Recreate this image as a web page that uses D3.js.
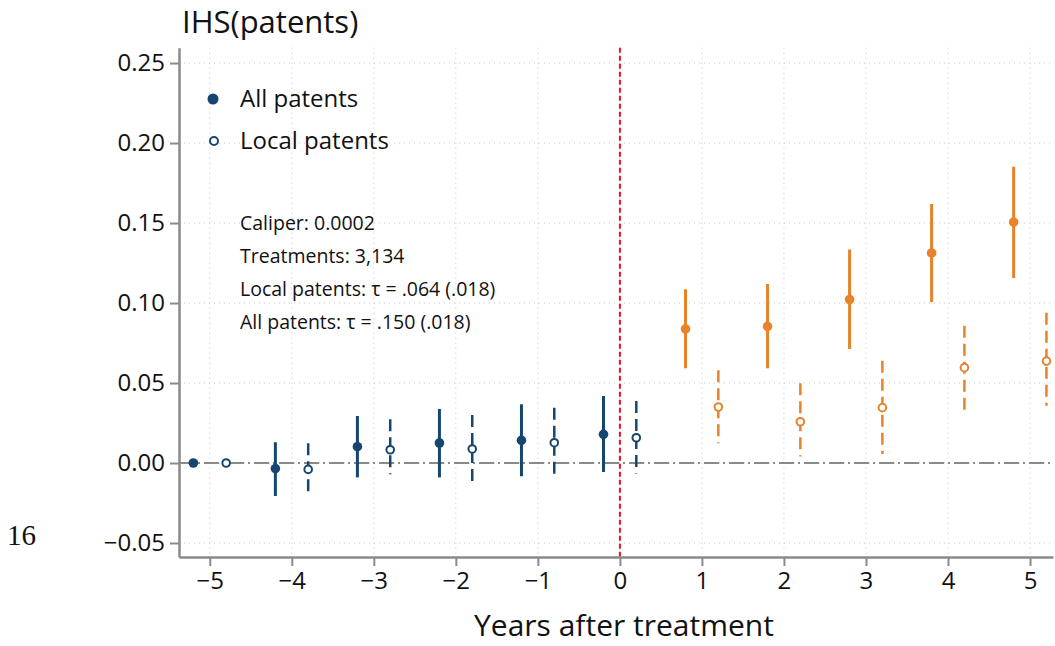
<!DOCTYPE html>
<html>
<head>
<meta charset="utf-8">
<title>Event study</title>
<script src="https://d3js.org/d3.v7.min.js"></script>
<style>
  body { margin: 0; background: #fff; }
  svg text { fill: #111; }
</style>
</head>
<body>
<div id="chart"></div>
<script>
// years relative to treatment
const years = [-5, -4, -3, -2, -1, 0, 1, 2, 3, 4, 5];

// all patents: point estimate and 95% CI
const allEst = [0, -0.0035, 0.0102, 0.0125, 0.0142, 0.0179, 0.0838, 0.0854, 0.1022, 0.1313, 0.1506];
const allLo  = [0, -0.0206, -0.0090, -0.0090, -0.0083, -0.0056, 0.0592, 0.0592, 0.0713, 0.1006, 0.1156];
const allHi  = [0, 0.0130, 0.0294, 0.0338, 0.0367, 0.0419, 0.1086, 0.1119, 0.1335, 0.1619, 0.1852];

// local patents
const locEst = [0, -0.0040, 0.0083, 0.0088, 0.0127, 0.0158, 0.0350, 0.0258, 0.0346, 0.0596, 0.0637];
const locLo  = [0, -0.0202, -0.0070, -0.0120, -0.0092, -0.0065, 0.0123, 0.0040, 0.0056, 0.0331, 0.0358];
const locHi  = [0, 0.0123, 0.0273, 0.0300, 0.0346, 0.0388, 0.0580, 0.0498, 0.0639, 0.0858, 0.0940];

const xTicks = [-5, -4, -3, -2, -1, 0, 1, 2, 3, 4, 5];
const yTicks = [-0.05, 0, 0.05, 0.10, 0.15, 0.20, 0.25];

const notes = ["Caliper: 0.0002", "Treatments: 3,134",
               "Local patents: \u03c4 = .064 (.018)", "All patents: \u03c4 = .150 (.018)"];

const navy = "#16466f", orange = "#e8832a", gray = "#8a8a8a";
const sans = "Open Sans, sans-serif";

const W = 1055, H = 646;
const svg = d3.select("#chart").append("svg")
    .attr("width", W).attr("height", H)
    .style("font-family", sans);

const x = d3.scaleLinear().domain([-5.375, 5.28]).range([179, 1053]);
const y = d3.scaleLinear().domain([-0.05875, 0.2596]).range([557, 47.7]);

// grid
svg.append("g").selectAll("line").data(xTicks).join("line")
    .attr("x1", d => x(d)).attr("x2", d => x(d))
    .attr("y1", y.range()[1]).attr("y2", y.range()[0])
    .attr("stroke", "#c8c8c8").attr("stroke-width", 1).attr("stroke-dasharray", "1,4");
svg.append("g").selectAll("line").data(yTicks).join("line")
    .attr("x1", x.range()[0]).attr("x2", x.range()[1])
    .attr("y1", d => y(d)).attr("y2", d => y(d))
    .attr("stroke", "#c8c8c8").attr("stroke-width", 1).attr("stroke-dasharray", "1,4");

// zero line
svg.append("line")
    .attr("x1", x.range()[0]).attr("x2", x.range()[1])
    .attr("y1", y(0)).attr("y2", y(0))
    .attr("stroke", gray).attr("stroke-width", 2).attr("stroke-dasharray", "15,4,2,4");

// treatment line
svg.append("line")
    .attr("x1", x(0)).attr("x2", x(0))
    .attr("y1", y.range()[1]).attr("y2", y.range()[0])
    .attr("stroke", "#e8141c").attr("stroke-width", 2).attr("stroke-dasharray", "5,3");

// axes
const fmtY = d => d3.format(".2f")(d).replace("-", "\u2212");
const fmtX = d => String(d).replace("-", "\u2212");

const gx = svg.append("g").attr("transform", "translate(0,557)")
    .call(d3.axisBottom(x).tickValues(xTicks).tickFormat(fmtX).tickSize(9).tickPadding(6).tickSizeOuter(0));
const gy = svg.append("g").attr("transform", "translate(179,0)")
    .call(d3.axisLeft(y).tickValues(yTicks).tickFormat(fmtY).tickSize(9).tickPadding(5).tickSizeOuter(0));
[gx, gy].forEach(g => {
    g.select(".domain").attr("stroke", gray).attr("stroke-width", 2.5);
    g.selectAll(".tick line").attr("stroke", gray).attr("stroke-width", 2);
    g.selectAll(".tick text").attr("font-size", 24).attr("font-family", sans).attr("fill", "#111");
});

const colorOf = t => t > 0 ? orange : navy;

const allData = years.map((t, i) => ({t, est: allEst[i], lo: allLo[i], hi: allHi[i]}));
const locData = years.map((t, i) => ({t, est: locEst[i], lo: locLo[i], hi: locHi[i]}));

// all patents, shifted left, solid CI
svg.append("g").selectAll("line").data(allData.filter(d => d.t !== -5)).join("line")
    .attr("x1", d => x(d.t - 0.2)).attr("x2", d => x(d.t - 0.2))
    .attr("y1", d => y(d.lo)).attr("y2", d => y(d.hi))
    .attr("stroke", d => colorOf(d.t)).attr("stroke-width", 3);
svg.append("g").selectAll("circle").data(allData).join("circle")
    .attr("cx", d => x(d.t - 0.2)).attr("cy", d => y(d.est)).attr("r", 4.8)
    .attr("fill", d => colorOf(d.t));

// local patents, shifted right, dashed CI
svg.append("g").selectAll("line").data(locData.filter(d => d.t !== -5)).join("line")
    .attr("x1", d => x(d.t + 0.2)).attr("x2", d => x(d.t + 0.2))
    .attr("y1", d => y(d.hi)).attr("y2", d => y(d.lo))
    .attr("stroke", d => colorOf(d.t)).attr("stroke-width", 2.5).attr("stroke-dasharray", "12,6");
svg.append("g").selectAll("circle").data(locData).join("circle")
    .attr("cx", d => x(d.t + 0.2)).attr("cy", d => y(d.est)).attr("r", 3.8)
    .attr("fill", "#fff").attr("stroke", d => colorOf(d.t)).attr("stroke-width", 2);

// legend
svg.append("circle").attr("cx", 213).attr("cy", 99).attr("r", 5.5).attr("fill", navy);
svg.append("circle").attr("cx", 214).attr("cy", 141).attr("r", 4).attr("fill", "#fff")
    .attr("stroke", navy).attr("stroke-width", 2);
svg.append("text").attr("x", 240).attr("y", 107).attr("font-size", 24).text("All patents");
svg.append("text").attr("x", 240).attr("y", 149).attr("font-size", 24).text("Local patents");

// notes
svg.append("g").selectAll("text").data(notes).join("text")
    .attr("x", 240).attr("y", (d, i) => 230 + i * 33)
    .attr("font-size", 19.5).text(d => d);

// titles
svg.append("text").attr("x", 182).attr("y", 33).attr("font-size", 31).text("IHS(patents)");
svg.append("text").attr("x", 624).attr("y", 636).attr("text-anchor", "middle")
    .attr("font-size", 30).text("Years after treatment");

// page number
svg.append("text").attr("x", 7).attr("y", 545).attr("font-size", 29)
    .style("font-family", "Liberation Serif, serif").text("16");
</script>
</body>
</html>
